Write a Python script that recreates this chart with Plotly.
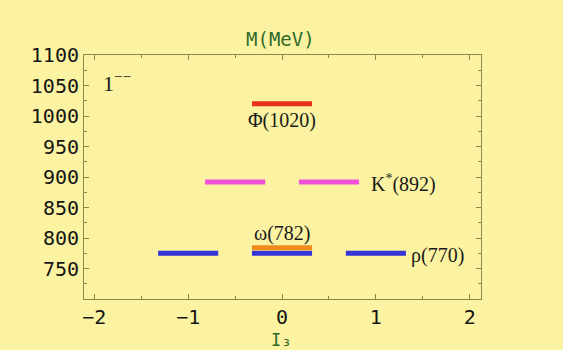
import plotly.graph_objects as go

# Data
names = ["ρ(770)", "ω(782)", "K*(892)", "Φ(1020)"]
masses = [775, 784, 892, 1020]
i3_values = [[-1, 0, 1], [0], [-0.5, 0.5], [0]]
colors = ["#3434D8", "#F08A1C", "#F04FD8", "#E8301A"]
x_ticks = [-2, -1, 0, 1, 2]
y_ticks = [750, 800, 850, 900, 950, 1000, 1050, 1100]

half = 0.32
bg = "#FCF3A2"
frame = "#8C8A4A"

fig = go.Figure()
for name, m, xs, c in zip(names, masses, i3_values, colors):
    X, Y = [], []
    for x in xs:
        X += [x - half, x + half, None]
        Y += [m, m, None]
    fig.add_trace(go.Scatter(x=X, y=Y, mode="lines", line=dict(color=c, width=5),
                             name=name, showlegend=False, hoverinfo="skip"))

serif = "Liberation Serif"
lab_font = dict(family=serif, size=20, color="#1a1a1a")
fig.add_annotation(x=0, y=masses[3], text="Φ(1020)", showarrow=False, yshift=-17, font=lab_font)
fig.add_annotation(x=0.93, y=masses[2], text="K<sup>*</sup>(892)", showarrow=False, xanchor="left", yshift=-2, font=lab_font)
fig.add_annotation(x=0, y=masses[1], text="ω(782)", showarrow=False, yshift=14, font=lab_font)
fig.add_annotation(x=1.35, y=masses[0], text="ρ(770)", showarrow=False, xanchor="left", yshift=-2, font=lab_font)
fig.add_annotation(x=-1.93, y=1050, text="1<sup>−−</sup>", showarrow=False, xanchor="left", yshift=4,
                   font=dict(family=serif, size=22, color="#1a1a1a"))

mono = "DejaVu Sans Mono"
fig.add_annotation(xref="paper", yref="paper", x=0.495, y=1.065, yanchor="middle", text="M(MeV)", showarrow=False,
                   font=dict(family=mono, size=19, color="#2F6A2A"))
fig.add_annotation(xref="paper", yref="paper", x=0.495, y=-0.168, yanchor="middle", text="I₃", showarrow=False,
                   font=dict(family=mono, size=17, color="#2F6A2A"))

axis_common = dict(showline=True, linecolor=frame, linewidth=1, mirror="ticks", ticks="inside",
                   ticklen=5, tickcolor=frame, showgrid=False, zeroline=False,
                   tickfont=dict(family=mono, size=20, color="#151515"))
fig.update_xaxes(range=[-2.11, 2.12], tickvals=x_ticks, ticktext=[str(v).replace("-", "−") for v in x_ticks],
                 minor=dict(ticks="inside", ticklen=3, tickcolor=frame, dtick=0.5),
                 **axis_common)
fig.update_yaxes(range=[700, 1100], tickvals=y_ticks,
                 minor=dict(ticks="inside", ticklen=3, tickcolor=frame, dtick=25),
                 **axis_common)

fig.update_layout(width=563, height=350, margin=dict(l=84, r=82, t=55, b=51),
                  paper_bgcolor=bg, plot_bgcolor=bg, showlegend=False)
fig.write_html("out.html")
